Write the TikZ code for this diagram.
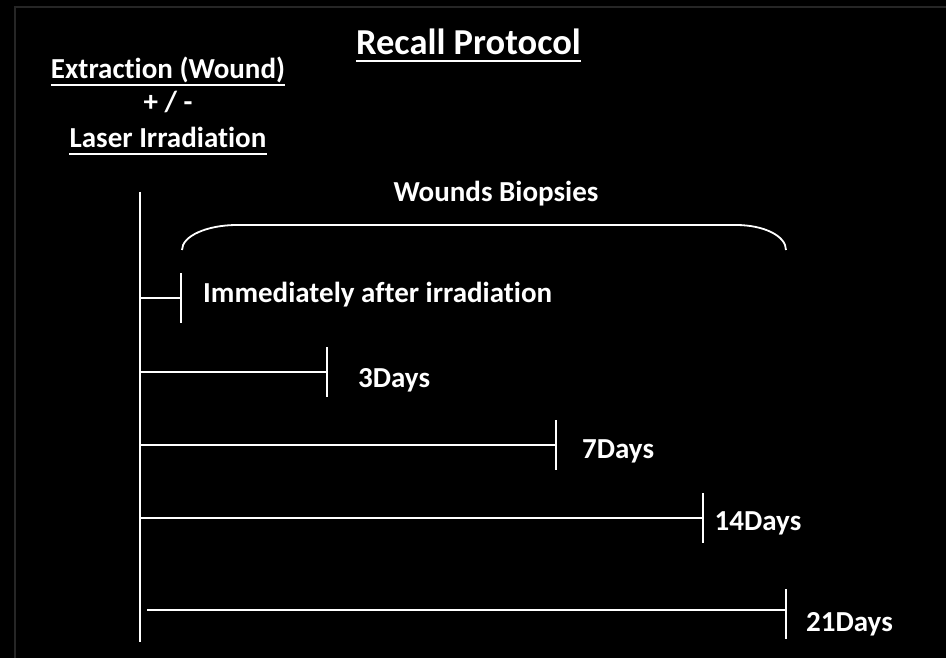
\documentclass[tikz,border=0pt]{standalone}
\usepackage{fontspec}
\setmainfont{Carlito}[Ligatures=NoCommon]
\usepackage{tikz}
\usetikzlibrary{positioning}

\begin{document}
\begin{tikzpicture}[
  x=1pt, y=-1pt,
  txt/.style={text=white, font=\fontsize{29}{32}\selectfont\bfseries, inner sep=0pt},
  ttl/.style={text=white, font=\fontsize{36.5}{40}\selectfont\bfseries, inner sep=0pt},
  uline/.style={draw=white, line width=2.6pt},
  axis/.style={draw=white, line width=1.8pt},
  bar/.style={draw=white, line width=2.8pt},
  tick/.style={draw=white, line width=2.4pt},
]
% background and faint frame
\fill[black] (0,0) rectangle (946,658);
\useasboundingbox (0,0) rectangle (946,658);
\draw[draw=black!85!white, line width=2pt] (15,658) -- (15,7) -- (946,7);

% --- Headings ---
\node[ttl, anchor=base] (title) at (468.5,55) {Recall Protocol};
\draw[uline] ([yshift=-6]title.base west) -- ([yshift=-6]title.base east);
\node[txt, anchor=base] (extr) at (168,79) {Extraction (Wound)};
\draw[uline] ([yshift=-6]extr.base west) -- ([yshift=-6]extr.base east);
\node[txt, anchor=base] (pm) at (168,112) {+ / -};
\node[txt, anchor=base] (laser) at (168,148) {Laser Irradiation};
\draw[uline] ([yshift=-6]laser.base west) -- ([yshift=-6]laser.base east);

% --- Time axis ---
\coordinate (top) at (140,192);
\coordinate (bot) at (140,642);
\draw[axis] (top) -- (bot);

% --- Biopsies brace ---
\node[txt, anchor=base] (biop) at (496,202) {Wounds Biopsies};
\coordinate (bl) at (182,250);
\coordinate (br) at (786,250);
\draw[draw=white, line width=1.8pt] (bl) .. controls (182,236) and (207,225) .. (237,225)
  -- (736,225) .. controls (764,225) and (786,236) .. (br);

% --- Sampling points ---
\foreach \i/\xs/\xe/\y/\dt/\dx/\dy/\t in {
  1/140/181/298/0/22/4/Immediately after irradiation,
  2/140/327/372/0/31/15/3Days,
  3/140/556/445/0/26/13/7Days,
  4/140/703/518/0/11.5/12/14Days,
  5/147/786/610/4/20/21/21Days}{
  \coordinate (s\i) at (\xs,\y);
  \coordinate (e\i) at (\xe,\y);
  \draw[bar] (s\i) -- (e\i);
  \draw[tick] ([yshift=25-\dt]e\i) -- ([yshift=-25-\dt]e\i);
  \node[txt, anchor=base west] (lab\i) at ([xshift=\dx, yshift=-\dy]e\i) {\t};
}
\end{tikzpicture}
\end{document}
